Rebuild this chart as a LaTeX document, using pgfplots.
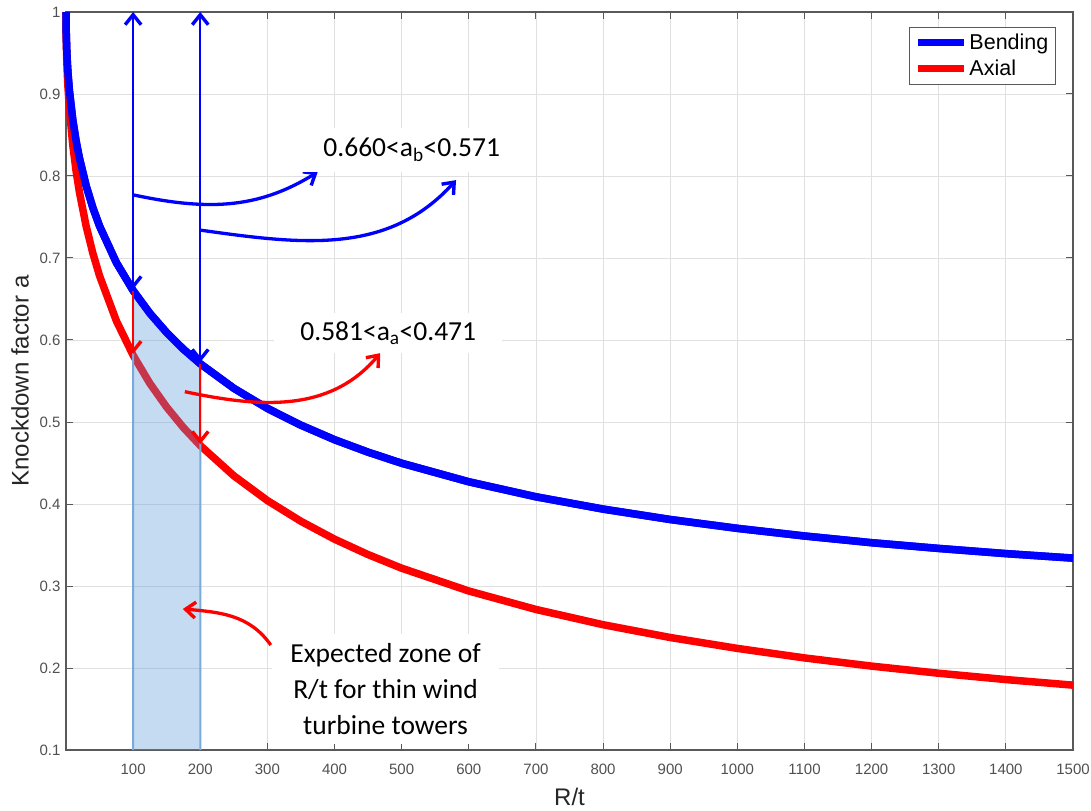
\documentclass[border=0pt]{standalone}
\usepackage{pgfplots}
\pgfplotsset{compat=1.18}
\usepackage{fontspec}
\setmainfont{Liberation Sans}
\newfontfamily\calfont{Carlito}
\usetikzlibrary{arrows.meta}
\definecolor{zonefill}{RGB}{89,153,217}
\definecolor{zoneedge}{RGB}{120,170,220}
\definecolor{tickgray}{RGB}{80,80,80}

\pgfplotstableread{
x y
0 1.0000
0.25 0.9775
1 0.9557
2 0.9382
3 0.9250
5 0.9047
10 0.8689
15 0.8428
20 0.8218
30 0.7881
40 0.7613
50 0.7389
75 0.6944
100 0.6603
125 0.6325
150 0.6090
175 0.5887
200 0.5710
250 0.5411
300 0.5166
350 0.4961
400 0.4784
450 0.4632
500 0.4497
600 0.4271
700 0.4088
800 0.3938
900 0.3811
1000 0.3703
1100 0.3610
1200 0.3528
1300 0.3458
1400 0.3395
1500 0.3340
}\bending

\pgfplotstableread{
x y
0 1.0000
0.25 0.9723
1 0.9454
2 0.9238
3 0.9076
5 0.8825
10 0.8385
15 0.8063
20 0.7803
30 0.7388
40 0.7058
50 0.6782
75 0.6234
100 0.5813
125 0.5470
150 0.5181
175 0.4931
200 0.4713
250 0.4344
300 0.4042
350 0.3789
400 0.3571
450 0.3383
500 0.3217
600 0.2939
700 0.2714
800 0.2528
900 0.2372
1000 0.2239
1100 0.2123
1200 0.2023
1300 0.1936
1400 0.1859
1500 0.1791
}\axial

\pgfplotstableread{
x y
100 0.1
100 0.6603
125 0.6325
150 0.6090
175 0.5887
200 0.5710
200 0.1
}\zone

\tikzset{
  barb/.style={-{Straight Barb[length=10pt,width=16pt,line width=3.4pt]}},
  dbarb/.style={{Straight Barb[length=10pt,width=16pt,line width=3.4pt]}-{Straight Barb[length=10pt,width=16pt,line width=3.4pt]}},
}

\begin{document}
\begin{tikzpicture}
\begin{axis}[
  width=1007pt, height=738pt, scale only axis,
  xmin=0, xmax=1500, ymin=0.1, ymax=1,
  clip=false,
  xtick={100,200,300,400,500,600,700,800,900,1000,1100,1200,1300,1400,1500},
  xticklabels={100,200,300,400,500,600,700,800,900,1000,1100,1200,1300,1400,1500},
  ytick={0.1,0.2,0.3,0.4,0.5,0.6,0.7,0.8,0.9,1},
  yticklabels={0.1,0.2,0.3,0.4,0.5,0.6,0.7,0.8,0.9,1},
  /pgf/number format/assume math mode=true,
  tick label style={font=\fontsize{15}{17}\selectfont, text=tickgray},
  xticklabel style={yshift=-10pt},
  yticklabel style={xshift=-2pt},
  tick align=inside,
  major tick length=7pt,
  every tick/.style={black!65, line width=1pt},
  axis line style={black!65, line width=1.2pt},
  grid=major,
  major grid style={black!12, line width=0.8pt},
  xlabel={R/t},
  ylabel={Knockdown factor a},
  label style={font=\fontsize{24}{27}\selectfont, text=black!85},
  xlabel style={at={(axis description cs:0.5,-0.0637)}, anchor=center},
  ylabel style={at={(axis description cs:-0.0457,0.5)}, anchor=center},
  legend style={at={(axis description cs:0.983,0.980)}, anchor=north east,
    draw=black!65, line width=1pt, fill=white,
    font=\fontsize{21.5}{23}\selectfont, inner xsep=5pt, inner ysep=5pt,
    row sep=5pt},
  legend cell align=left,
  legend image code/.code={\draw[#1, line width=7pt] (0pt,0pt) -- (46pt,0pt);},
]
\addplot[blue, line width=7.5pt] table[x=x,y=y] {\bending};
\addlegendentry{Bending}
\addplot[red, line width=7.5pt] table[x=x,y=y] {\axial};
\addlegendentry{Axial}
\addplot[fill=zonefill, fill opacity=0.35, draw=zoneedge, line width=2pt, forget plot] table[x=x,y=y] {\zone};
\addplot[blue, line width=7.5pt, forget plot] table[x=x,y=y] {\bending};

\coordinate (ll) at (rel axis cs:0,0);
\coordinate (ur) at (rel axis cs:1,1);

% vertical arrows
\draw[blue, line width=2.2pt, dbarb] (axis cs:100,1) -- (axis cs:100,0.662);
\draw[red, line width=2.2pt, barb] (axis cs:100,0.660) -- (axis cs:100,0.583);
\draw[blue, line width=2.2pt, dbarb] (axis cs:200,1) -- (axis cs:200,0.573);
\draw[red, line width=2.2pt, barb] (axis cs:200,0.571) -- (axis cs:200,0.473);

% curved arrows
\draw[blue, line width=3.3pt, barb] (axis cs:100,0.777) to[out=-12,in=212] (axis cs:375,0.805);
\draw[blue, line width=3.3pt, barb] (axis cs:200,0.734) to[out=-8,in=228] (axis cs:581,0.795);
\draw[red, line width=3.3pt, barb] (axis cs:177,0.537) to[out=-12,in=230] (axis cs:468,0.584);
\draw[red, line width=3.3pt, barb] (axis cs:305,0.228) to[out=125,in=-5] (axis cs:174,0.272);

% text boxes
\node[fill=white, inner xsep=26pt, inner ysep=10pt, font=\calfont\fontsize{27.5}{31}\selectfont] at (axis cs:515,0.832) {0.660<a\textsubscript{b}<0.571};
\node[fill=white, inner xsep=26pt, inner ysep=9pt, font=\calfont\fontsize{27.5}{31}\selectfont] at (axis cs:480,0.6085) {0.581<a\textsubscript{a}<0.471};
\node[fill=white, inner xsep=18pt, inner ysep=9pt, align=center, font=\calfont\fontsize{27.5}{36}\selectfont] at (axis cs:476,0.1744) {Expected zone of\\R/t for thin wind\\turbine towers};
\end{axis}
\pgfresetboundingbox
\path ([shift={(-66pt,-60pt)}]ll) rectangle ([shift={(18pt,12pt)}]ur);
\end{tikzpicture}
\end{document}
